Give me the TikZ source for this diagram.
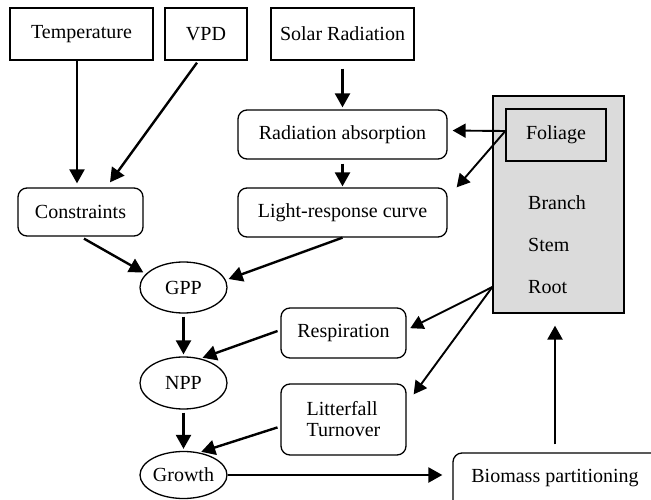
\documentclass[tikz,border=0pt]{standalone}
\usepackage{fontspec}
\setmainfont{Liberation Serif}
\usetikzlibrary{arrows.meta,shapes.geometric,calc}
\begin{document}
\begin{tikzpicture}[x=1pt,y=-1pt,
  font=\fontsize{20}{23}\selectfont,
  sqbox/.style={draw,line width=1.3pt,rectangle,inner sep=0pt},
  rbox/.style={draw,line width=1.3pt,rectangle,rounded corners=9pt,inner sep=0pt},
  ell/.style={draw,line width=1.3pt,ellipse,inner sep=0pt},
  arr/.style={line width=2.4pt,-{Triangle[length=14pt,width=15pt]}},
  tarr/.style={line width=1.9pt,-{Triangle[length=13pt,width=14pt]}}]
\useasboundingbox (0,0) rectangle (651,500);
\clip (0,0) rectangle (651,500);
% top boxes
\node[sqbox,minimum width=143pt,minimum height=52pt] (temp) at (81.5,34) {Temperature};
\node[sqbox,minimum width=82pt,minimum height=52pt] (vpd) at (206,34) {VPD};
\node[sqbox,minimum width=143pt,minimum height=52pt] (solar) at (342.5,34) {Solar Radiation};
% middle
\node[rbox,minimum width=209pt,minimum height=49pt] (radabs) at (342.5,134.5) {Radiation absorption};
\node[rbox,minimum width=209pt,minimum height=49pt] (light) at (342.5,212.5) {Light-response curve};
\node[rbox,minimum width=125pt,minimum height=48pt] (constr) at (80.5,212) {Constraints};
% tissue box
\node[sqbox,fill=black!14,minimum width=131pt,minimum height=217pt] (tissue) at (558.5,204.5) {};
\node[sqbox,fill=black!14,minimum width=100pt,minimum height=52pt] (foliage) at (556,135) {Foliage};
\node[anchor=west,inner sep=0pt] (branch) at (528,203) {Branch};
\node[anchor=west,inner sep=0pt] (stem) at (528,245) {Stem};
\node[anchor=west,inner sep=0pt] (root) at (528,287) {Root};
% ellipses
\node[ell,minimum width=87pt,minimum height=51pt] (gpp) at (183.5,287.5) {GPP};
\node[ell,minimum width=87pt,minimum height=52pt] (npp) at (183.5,383) {NPP};
\node[ell,minimum width=87pt,minimum height=47pt] (growth) at (183.5,475) {Growth};
% lower right
\node[rbox,minimum width=125pt,minimum height=50pt] (resp) at (343.5,333) {Respiration};
\node[rbox,minimum width=125pt,minimum height=71pt,align=left] (litter) at (343.5,419.5) {Litterfall\\[-2pt]Turnover};
\node[rbox,minimum width=212pt,minimum height=67pt] (biomass) at (559,486.5) {};
\node[inner sep=0pt] (biotext) at (555,478) {Biomass partitioning};
\coordinate (src) at (tissue.west |- root.west);
% arrows
\draw[arr] (temp.south -| 77,0) -- ([yshift=4pt]constr.north -| 77,0);
\draw[arr] ([xshift=-9pt,yshift=-2pt]vpd.south) -- ([xshift=29.5pt,yshift=5pt]constr.north);
\draw[arr,shorten <=8pt,shorten >=2pt] (solar.south) -- (radabs.north);
\draw[arr,shorten <=4pt,shorten >=1pt] (radabs.south) -- (light.north);
\draw[tarr,shorten >=5pt] ([yshift=4pt]foliage.west) -- ([yshift=4pt]radabs.east);
\draw[tarr] ([yshift=4pt]foliage.west) -- ([xshift=9pt]light.north east);
\draw[arr,shorten <=4pt,shorten >=3pt] (constr.south) -- (gpp.160);
\draw[arr,shorten >=3pt] (light.south) -- (gpp.10);
\draw[arr,shorten <=3pt,shorten >=2pt] (gpp.south) -- (npp.north);
\draw[arr,shorten <=3pt,shorten >=2pt] ([yshift=3pt]resp.west) -- (npp.55);
\draw[tarr,shorten >=4pt] (src) -- ([yshift=3pt]resp.east);
\draw[tarr] (src) -- ([xshift=7pt,yshift=-11pt]litter.north east);
\draw[arr,shorten <=3pt,shorten >=2pt] (npp.south) -- (growth.north);
\draw[arr,shorten <=3pt,shorten >=2pt] ([yshift=-7pt]litter.west) -- (growth.55);
\draw[arr,shorten >=10pt] (growth.east) -- (growth.east -| biomass.west);
\draw[arr,shorten <=8pt,shorten >=12pt] (biotext.north |- biomass.north) -- (biotext.north |- tissue.south);
\end{tikzpicture}
\end{document}
